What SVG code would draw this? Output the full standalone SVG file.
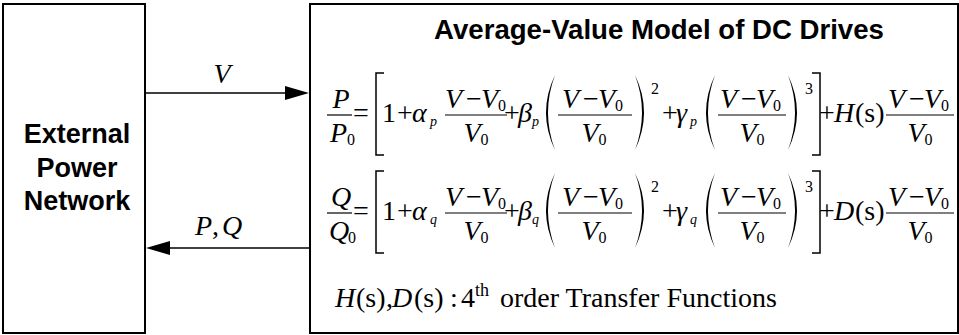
<svg xmlns="http://www.w3.org/2000/svg" width="959" height="335" viewBox="0 0 959 335">
<style>
.t{font-family:"Liberation Sans",Arial,sans-serif;font-weight:bold;font-size:27px;fill:#000}
.m{font-family:"Liberation Serif","Times New Roman",serif;font-size:28px;fill:#000}
.i{font-style:italic}
.s{font-size:16px}
.ss{font-size:14px}
.box{fill:#fff;stroke:#000;stroke-width:2}
.ln{stroke:#000;stroke-width:1.5;fill:none}
.bar{stroke:#000;stroke-width:1.2}
.br{fill:none;stroke:#000;stroke-width:1.5}
.pa{fill:#000;stroke:none}
</style>
<defs>
<g id="num">
<text class="m i" x="0" y="108">V</text>
<text class="m" x="21" y="108">−</text>
<text class="m i" x="36" y="108">V</text>
<text class="m s" x="53" y="111">0</text>
</g>
<g id="den">
<text class="m i" x="-12.5" y="142">V</text>
<text class="m s" x="4.5" y="145">0</text>
</g>
</defs>
<rect width="959" height="335" fill="#fff"/>
<g id="node-network">
<rect class="box" x="3" y="4" width="142" height="329"/>
<text class="t" x="77" y="143" text-anchor="middle">External</text>
<text class="t" x="77" y="177" text-anchor="middle">Power</text>
<text class="t" x="77" y="210" text-anchor="middle">Network</text>
</g>
<g id="node-model">
<rect class="box" x="310" y="4" width="648" height="329"/>
<text class="t" x="659" y="39" text-anchor="middle" style="font-size:27.6px">Average-Value Model of DC Drives</text>
<g id="eq-p">
<text class="m i" x="341" y="108" text-anchor="middle">P</text>
<line class="bar" x1="327" y1="115" x2="352" y2="115"/>
<text class="m i" x="330" y="142">P</text>
<text class="m s" x="347" y="145">0</text>
<text class="m" x="353" y="122">=</text>
<path class="br" d="M384,73 H376 V155 H384"/>
<text class="m" x="382" y="122">1</text>
<text class="m" x="397" y="122">+</text>
<text class="m i" x="412" y="122">α</text>
<text class="m i ss" x="430" y="126">p</text>
<use href="#num" x="445"/>
<line class="bar" x1="445" y1="115" x2="507" y2="115"/>
<use href="#den" x="476"/>
<text class="m" x="504" y="122">+</text>
<text class="m i" x="518" y="122">β</text>
<text class="m i ss" x="532" y="126">p</text>
<path class="pa" d="M555,75 Q537,112.5 555,150 Q541,112.5 555,75 Z"/>
<use href="#num" x="562"/>
<line class="bar" x1="558" y1="115" x2="632" y2="115"/>
<use href="#den" x="594"/>
<path class="pa" d="M635,75 Q653,112.5 635,150 Q649,112.5 635,75 Z"/>
<text class="m s" x="651" y="94">2</text>
<text class="m" x="662" y="122">+</text>
<text class="m i" x="676" y="122">γ</text>
<text class="m i ss" x="690" y="126">p</text>
<path class="pa" d="M715,75 Q697,112.5 715,150 Q701,112.5 715,75 Z"/>
<use href="#num" x="720"/>
<line class="bar" x1="718" y1="115" x2="786" y2="115"/>
<use href="#den" x="752"/>
<path class="pa" d="M788,75 Q806,112.5 788,150 Q802,112.5 788,75 Z"/>
<text class="m s" x="805" y="94">3</text>
<path class="br" d="M812,73 H820 V155 H812"/>
<text class="m" x="819" y="122">+</text>
<text class="m i" x="834" y="122">H</text>
<text class="m" x="855" y="122">(s)</text>
<use href="#num" x="888"/>
<line class="bar" x1="886" y1="115" x2="954" y2="115"/>
<use href="#den" x="920"/>
</g>
<g id="eq-q" transform="translate(0,98)">
<text class="m i" x="341" y="108" text-anchor="middle">Q</text>
<line class="bar" x1="327" y1="115" x2="352" y2="115"/>
<text class="m i" x="329" y="142">Q</text>
<text class="m s" x="348" y="145">0</text>
<text class="m" x="353" y="122">=</text>
<path class="br" d="M384,73 H376 V155 H384"/>
<text class="m" x="382" y="122">1</text>
<text class="m" x="397" y="122">+</text>
<text class="m i" x="412" y="122">α</text>
<text class="m i ss" x="430" y="126">q</text>
<use href="#num" x="445"/>
<line class="bar" x1="445" y1="115" x2="507" y2="115"/>
<use href="#den" x="476"/>
<text class="m" x="504" y="122">+</text>
<text class="m i" x="518" y="122">β</text>
<text class="m i ss" x="532" y="126">q</text>
<path class="pa" d="M555,75 Q537,112.5 555,150 Q541,112.5 555,75 Z"/>
<use href="#num" x="562"/>
<line class="bar" x1="558" y1="115" x2="632" y2="115"/>
<use href="#den" x="594"/>
<path class="pa" d="M635,75 Q653,112.5 635,150 Q649,112.5 635,75 Z"/>
<text class="m s" x="651" y="94">2</text>
<text class="m" x="662" y="122">+</text>
<text class="m i" x="676" y="122">γ</text>
<text class="m i ss" x="690" y="126">q</text>
<path class="pa" d="M715,75 Q697,112.5 715,150 Q701,112.5 715,75 Z"/>
<use href="#num" x="720"/>
<line class="bar" x1="718" y1="115" x2="786" y2="115"/>
<use href="#den" x="752"/>
<path class="pa" d="M788,75 Q806,112.5 788,150 Q802,112.5 788,75 Z"/>
<text class="m s" x="805" y="94">3</text>
<path class="br" d="M812,73 H820 V155 H812"/>
<text class="m" x="819" y="122">+</text>
<text class="m i" x="834" y="122">D</text>
<text class="m" x="855" y="122">(s)</text>
<use href="#num" x="888"/>
<line class="bar" x1="886" y1="115" x2="954" y2="115"/>
<use href="#den" x="920"/>
</g>
<g id="note">
<text class="m i" x="335" y="307">H</text>
<text class="m" x="356" y="307">(s)</text>
<text class="m" x="386" y="307">,</text>
<text class="m i" x="392" y="307">D</text>
<text class="m" x="414" y="307">(s)</text>
<text class="m" x="450" y="307">:</text>
<text class="m" x="461" y="307">4</text>
<text class="m" x="475" y="296" style="font-size:18px">th</text>
<text class="m" x="500" y="307">order Transfer Functions</text>
</g>
</g>
<g id="connectors">
<line class="ln" x1="145" y1="93" x2="288" y2="93"/>
<polygon points="285,86 309,93 285,100" fill="#000"/>
<text class="m i" x="222" y="83" text-anchor="middle">V</text>
<line class="ln" x1="168" y1="248" x2="310" y2="248"/>
<polygon points="146,248 170,241 170,255" fill="#000"/>
<text class="m i" x="195" y="235">P</text>
<text class="m" x="212" y="235">,</text>
<text class="m i" x="222" y="235">Q</text>
</g>
</svg>
